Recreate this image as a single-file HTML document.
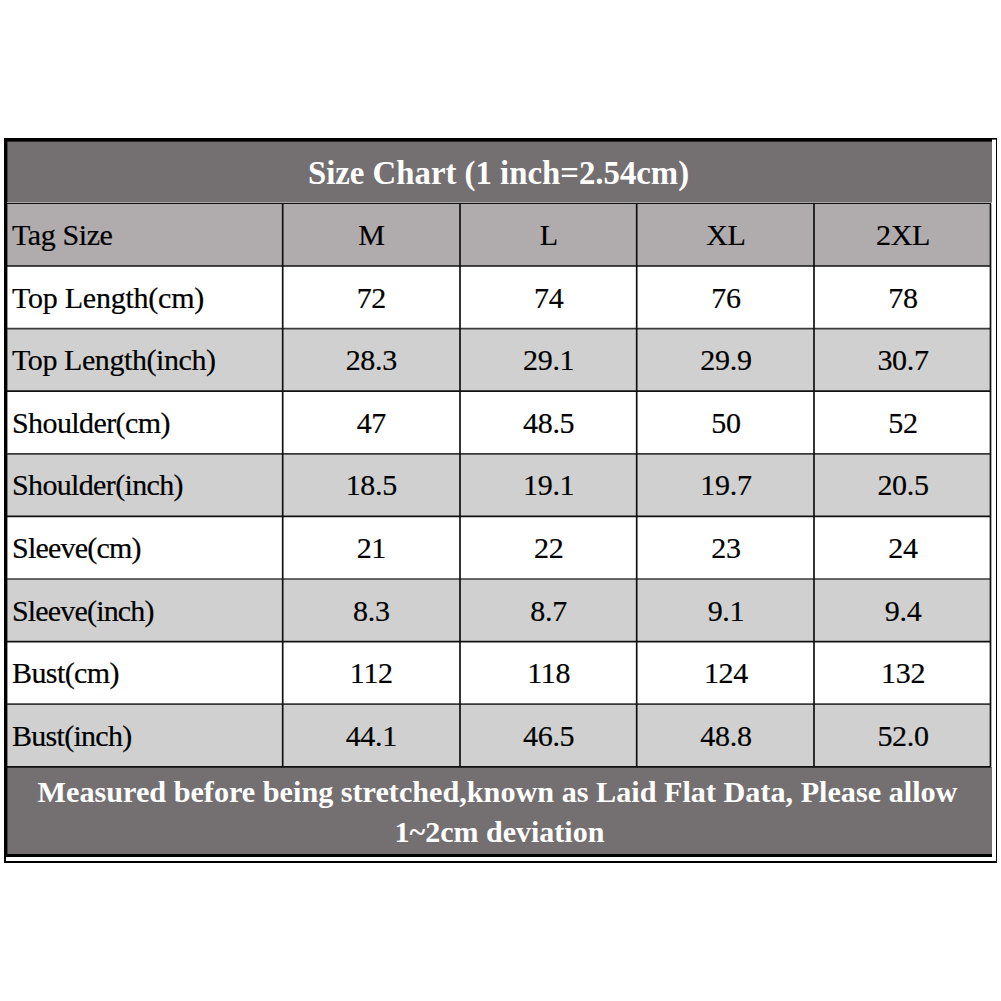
<!DOCTYPE html>
<html><head><meta charset="utf-8"><style>
html,body{margin:0;padding:0;background:#fff;width:1001px;height:1001px;overflow:hidden;position:relative}
.a{position:absolute}
.t{position:absolute;font-family:"Liberation Serif",serif;color:#000;white-space:nowrap}
.b{letter-spacing:-0.3px;-webkit-text-stroke:0.2px #000}
</style></head><body>

<div class="a" style="left:7px;top:141px;width:985px;height:62px;background:#747071"></div>
<div class="a" style="left:7px;top:203.4px;width:984px;height:62.6px;background:#b0acad"></div>
<div class="a" style="left:7px;top:266.0px;width:984px;height:62.6px;background:#fff"></div>
<div class="a" style="left:7px;top:328.6px;width:984px;height:62.6px;background:#d0d0d0"></div>
<div class="a" style="left:7px;top:391.2px;width:984px;height:62.6px;background:#fff"></div>
<div class="a" style="left:7px;top:453.8px;width:984px;height:62.6px;background:#d0d0d0"></div>
<div class="a" style="left:7px;top:516.4px;width:984px;height:62.6px;background:#fff"></div>
<div class="a" style="left:7px;top:579.0px;width:984px;height:62.6px;background:#d0d0d0"></div>
<div class="a" style="left:7px;top:641.6px;width:984px;height:62.6px;background:#fff"></div>
<div class="a" style="left:7px;top:704.2px;width:984px;height:62.6px;background:#d0d0d0"></div>
<div class="a" style="left:7px;top:767px;width:985px;height:87px;background:#747071"></div>
<svg class="a" style="left:0;top:0" width="1001" height="1001" viewBox="0 0 1001 1001">
<rect x="4" y="138" width="3.4" height="724" fill="#000"/>
<rect x="4" y="138" width="993" height="1.6" fill="#000"/>
<rect x="4" y="139" width="988" height="2.6" fill="#000"/>
<rect x="996" y="138" width="1" height="724" fill="#000"/>
<rect x="4" y="861" width="993" height="2" fill="#000"/>
<rect x="7" y="854" width="985" height="3" fill="#000"/>
<rect x="6" y="857" width="990" height="4" fill="#fff"/>
<rect x="7" y="202" width="985" height="1" fill="#a9a6a7"/>
<rect x="7" y="203" width="984" height="1" fill="#111"/>
<line x1="7" x2="991" y1="266.0" y2="266.0" stroke="#111" stroke-width="1.7"/>
<line x1="7" x2="991" y1="328.6" y2="328.6" stroke="#3a3a3a" stroke-width="1.7"/>
<line x1="7" x2="991" y1="391.2" y2="391.2" stroke="#111" stroke-width="1.7"/>
<line x1="7" x2="991" y1="453.8" y2="453.8" stroke="#3a3a3a" stroke-width="1.7"/>
<line x1="7" x2="991" y1="516.4" y2="516.4" stroke="#111" stroke-width="1.7"/>
<line x1="7" x2="991" y1="579.0" y2="579.0" stroke="#3a3a3a" stroke-width="1.7"/>
<line x1="7" x2="991" y1="641.6" y2="641.6" stroke="#111" stroke-width="1.7"/>
<line x1="7" x2="991" y1="704.2" y2="704.2" stroke="#3a3a3a" stroke-width="1.7"/>
<line x1="7" x2="991" y1="766.8" y2="766.8" stroke="#111" stroke-width="1.7"/>
<line x1="282.7" x2="282.7" y1="203.4" y2="766.8" stroke="#111" stroke-width="1.7"/>
<line x1="460.0" x2="460.0" y1="203.4" y2="766.8" stroke="#111" stroke-width="1.7"/>
<line x1="636.7" x2="636.7" y1="203.4" y2="766.8" stroke="#111" stroke-width="1.7"/>
<line x1="814.0" x2="814.0" y1="203.4" y2="766.8" stroke="#111" stroke-width="1.7"/>
<line x1="990.5" x2="990.5" y1="203.4" y2="766.8" stroke="#111" stroke-width="1.7"/>
</svg>
<div class="t" style="left:6px;top:142px;width:985px;height:62px;line-height:62px;text-align:center;font-weight:bold;font-size:32.8px;color:#fff">Size Chart (1 inch=2.54cm)</div>
<div class="t b" style="left:12px;top:203.9px;height:62.6px;line-height:62.6px;font-size:30px;letter-spacing:-0.4px">Tag Size</div>
<div class="t b" style="left:282.7px;width:177.3px;top:203.9px;height:62.6px;line-height:62.6px;text-align:center;font-size:30px">M</div>
<div class="t b" style="left:460.3px;width:176.7px;top:203.9px;height:62.6px;line-height:62.6px;text-align:center;font-size:30px">L</div>
<div class="t b" style="left:637.3px;width:177.3px;top:203.9px;height:62.6px;line-height:62.6px;text-align:center;font-size:30px">XL</div>
<div class="t b" style="left:814.8px;width:176.5px;top:203.9px;height:62.6px;line-height:62.6px;text-align:center;font-size:30px">2XL</div>
<div class="t b" style="left:12px;top:266.5px;height:62.6px;line-height:62.6px;font-size:30px;letter-spacing:-0.24px">Top Length(cm)</div>
<div class="t b" style="left:282.7px;width:177.3px;top:266.5px;height:62.6px;line-height:62.6px;text-align:center;font-size:30px">72</div>
<div class="t b" style="left:460.3px;width:176.7px;top:266.5px;height:62.6px;line-height:62.6px;text-align:center;font-size:30px">74</div>
<div class="t b" style="left:637.3px;width:177.3px;top:266.5px;height:62.6px;line-height:62.6px;text-align:center;font-size:30px">76</div>
<div class="t b" style="left:814.8px;width:176.5px;top:266.5px;height:62.6px;line-height:62.6px;text-align:center;font-size:30px">78</div>
<div class="t b" style="left:12px;top:329.1px;height:62.6px;line-height:62.6px;font-size:30px;letter-spacing:-0.42px">Top Length(inch)</div>
<div class="t b" style="left:282.7px;width:177.3px;top:329.1px;height:62.6px;line-height:62.6px;text-align:center;font-size:30px">28.3</div>
<div class="t b" style="left:460.3px;width:176.7px;top:329.1px;height:62.6px;line-height:62.6px;text-align:center;font-size:30px">29.1</div>
<div class="t b" style="left:637.3px;width:177.3px;top:329.1px;height:62.6px;line-height:62.6px;text-align:center;font-size:30px">29.9</div>
<div class="t b" style="left:814.8px;width:176.5px;top:329.1px;height:62.6px;line-height:62.6px;text-align:center;font-size:30px">30.7</div>
<div class="t b" style="left:12px;top:391.7px;height:62.6px;line-height:62.6px;font-size:30px;letter-spacing:-0.59px">Shoulder(cm)</div>
<div class="t b" style="left:282.7px;width:177.3px;top:391.7px;height:62.6px;line-height:62.6px;text-align:center;font-size:30px">47</div>
<div class="t b" style="left:460.3px;width:176.7px;top:391.7px;height:62.6px;line-height:62.6px;text-align:center;font-size:30px">48.5</div>
<div class="t b" style="left:637.3px;width:177.3px;top:391.7px;height:62.6px;line-height:62.6px;text-align:center;font-size:30px">50</div>
<div class="t b" style="left:814.8px;width:176.5px;top:391.7px;height:62.6px;line-height:62.6px;text-align:center;font-size:30px">52</div>
<div class="t b" style="left:12px;top:454.3px;height:62.6px;line-height:62.6px;font-size:30px;letter-spacing:-0.65px">Shoulder(inch)</div>
<div class="t b" style="left:282.7px;width:177.3px;top:454.3px;height:62.6px;line-height:62.6px;text-align:center;font-size:30px">18.5</div>
<div class="t b" style="left:460.3px;width:176.7px;top:454.3px;height:62.6px;line-height:62.6px;text-align:center;font-size:30px">19.1</div>
<div class="t b" style="left:637.3px;width:177.3px;top:454.3px;height:62.6px;line-height:62.6px;text-align:center;font-size:30px">19.7</div>
<div class="t b" style="left:814.8px;width:176.5px;top:454.3px;height:62.6px;line-height:62.6px;text-align:center;font-size:30px">20.5</div>
<div class="t b" style="left:12px;top:516.9px;height:62.6px;line-height:62.6px;font-size:30px;letter-spacing:-0.79px">Sleeve(cm)</div>
<div class="t b" style="left:282.7px;width:177.3px;top:516.9px;height:62.6px;line-height:62.6px;text-align:center;font-size:30px">21</div>
<div class="t b" style="left:460.3px;width:176.7px;top:516.9px;height:62.6px;line-height:62.6px;text-align:center;font-size:30px">22</div>
<div class="t b" style="left:637.3px;width:177.3px;top:516.9px;height:62.6px;line-height:62.6px;text-align:center;font-size:30px">23</div>
<div class="t b" style="left:814.8px;width:176.5px;top:516.9px;height:62.6px;line-height:62.6px;text-align:center;font-size:30px">24</div>
<div class="t b" style="left:12px;top:579.5px;height:62.6px;line-height:62.6px;font-size:30px;letter-spacing:-0.83px">Sleeve(inch)</div>
<div class="t b" style="left:282.7px;width:177.3px;top:579.5px;height:62.6px;line-height:62.6px;text-align:center;font-size:30px">8.3</div>
<div class="t b" style="left:460.3px;width:176.7px;top:579.5px;height:62.6px;line-height:62.6px;text-align:center;font-size:30px">8.7</div>
<div class="t b" style="left:637.3px;width:177.3px;top:579.5px;height:62.6px;line-height:62.6px;text-align:center;font-size:30px">9.1</div>
<div class="t b" style="left:814.8px;width:176.5px;top:579.5px;height:62.6px;line-height:62.6px;text-align:center;font-size:30px">9.4</div>
<div class="t b" style="left:12px;top:642.1px;height:62.6px;line-height:62.6px;font-size:30px;letter-spacing:-0.59px">Bust(cm)</div>
<div class="t b" style="left:282.7px;width:177.3px;top:642.1px;height:62.6px;line-height:62.6px;text-align:center;font-size:30px">112</div>
<div class="t b" style="left:460.3px;width:176.7px;top:642.1px;height:62.6px;line-height:62.6px;text-align:center;font-size:30px">118</div>
<div class="t b" style="left:637.3px;width:177.3px;top:642.1px;height:62.6px;line-height:62.6px;text-align:center;font-size:30px">124</div>
<div class="t b" style="left:814.8px;width:176.5px;top:642.1px;height:62.6px;line-height:62.6px;text-align:center;font-size:30px">132</div>
<div class="t b" style="left:12px;top:704.7px;height:62.6px;line-height:62.6px;font-size:30px;letter-spacing:-0.72px">Bust(inch)</div>
<div class="t b" style="left:282.7px;width:177.3px;top:704.7px;height:62.6px;line-height:62.6px;text-align:center;font-size:30px">44.1</div>
<div class="t b" style="left:460.3px;width:176.7px;top:704.7px;height:62.6px;line-height:62.6px;text-align:center;font-size:30px">46.5</div>
<div class="t b" style="left:637.3px;width:177.3px;top:704.7px;height:62.6px;line-height:62.6px;text-align:center;font-size:30px">48.8</div>
<div class="t b" style="left:814.8px;width:176.5px;top:704.7px;height:62.6px;line-height:62.6px;text-align:center;font-size:30px">52.0</div>
<div class="t" style="left:5px;top:773px;width:985px;line-height:39px;text-align:center;font-weight:bold;font-size:30.2px;color:#fff">Measured before being stretched,known as Laid Flat Data, Please allow</div>
<div class="t" style="left:7px;top:812px;width:985px;line-height:39px;text-align:center;font-weight:bold;font-size:30px;color:#fff">1~2cm deviation</div>
</body></html>
